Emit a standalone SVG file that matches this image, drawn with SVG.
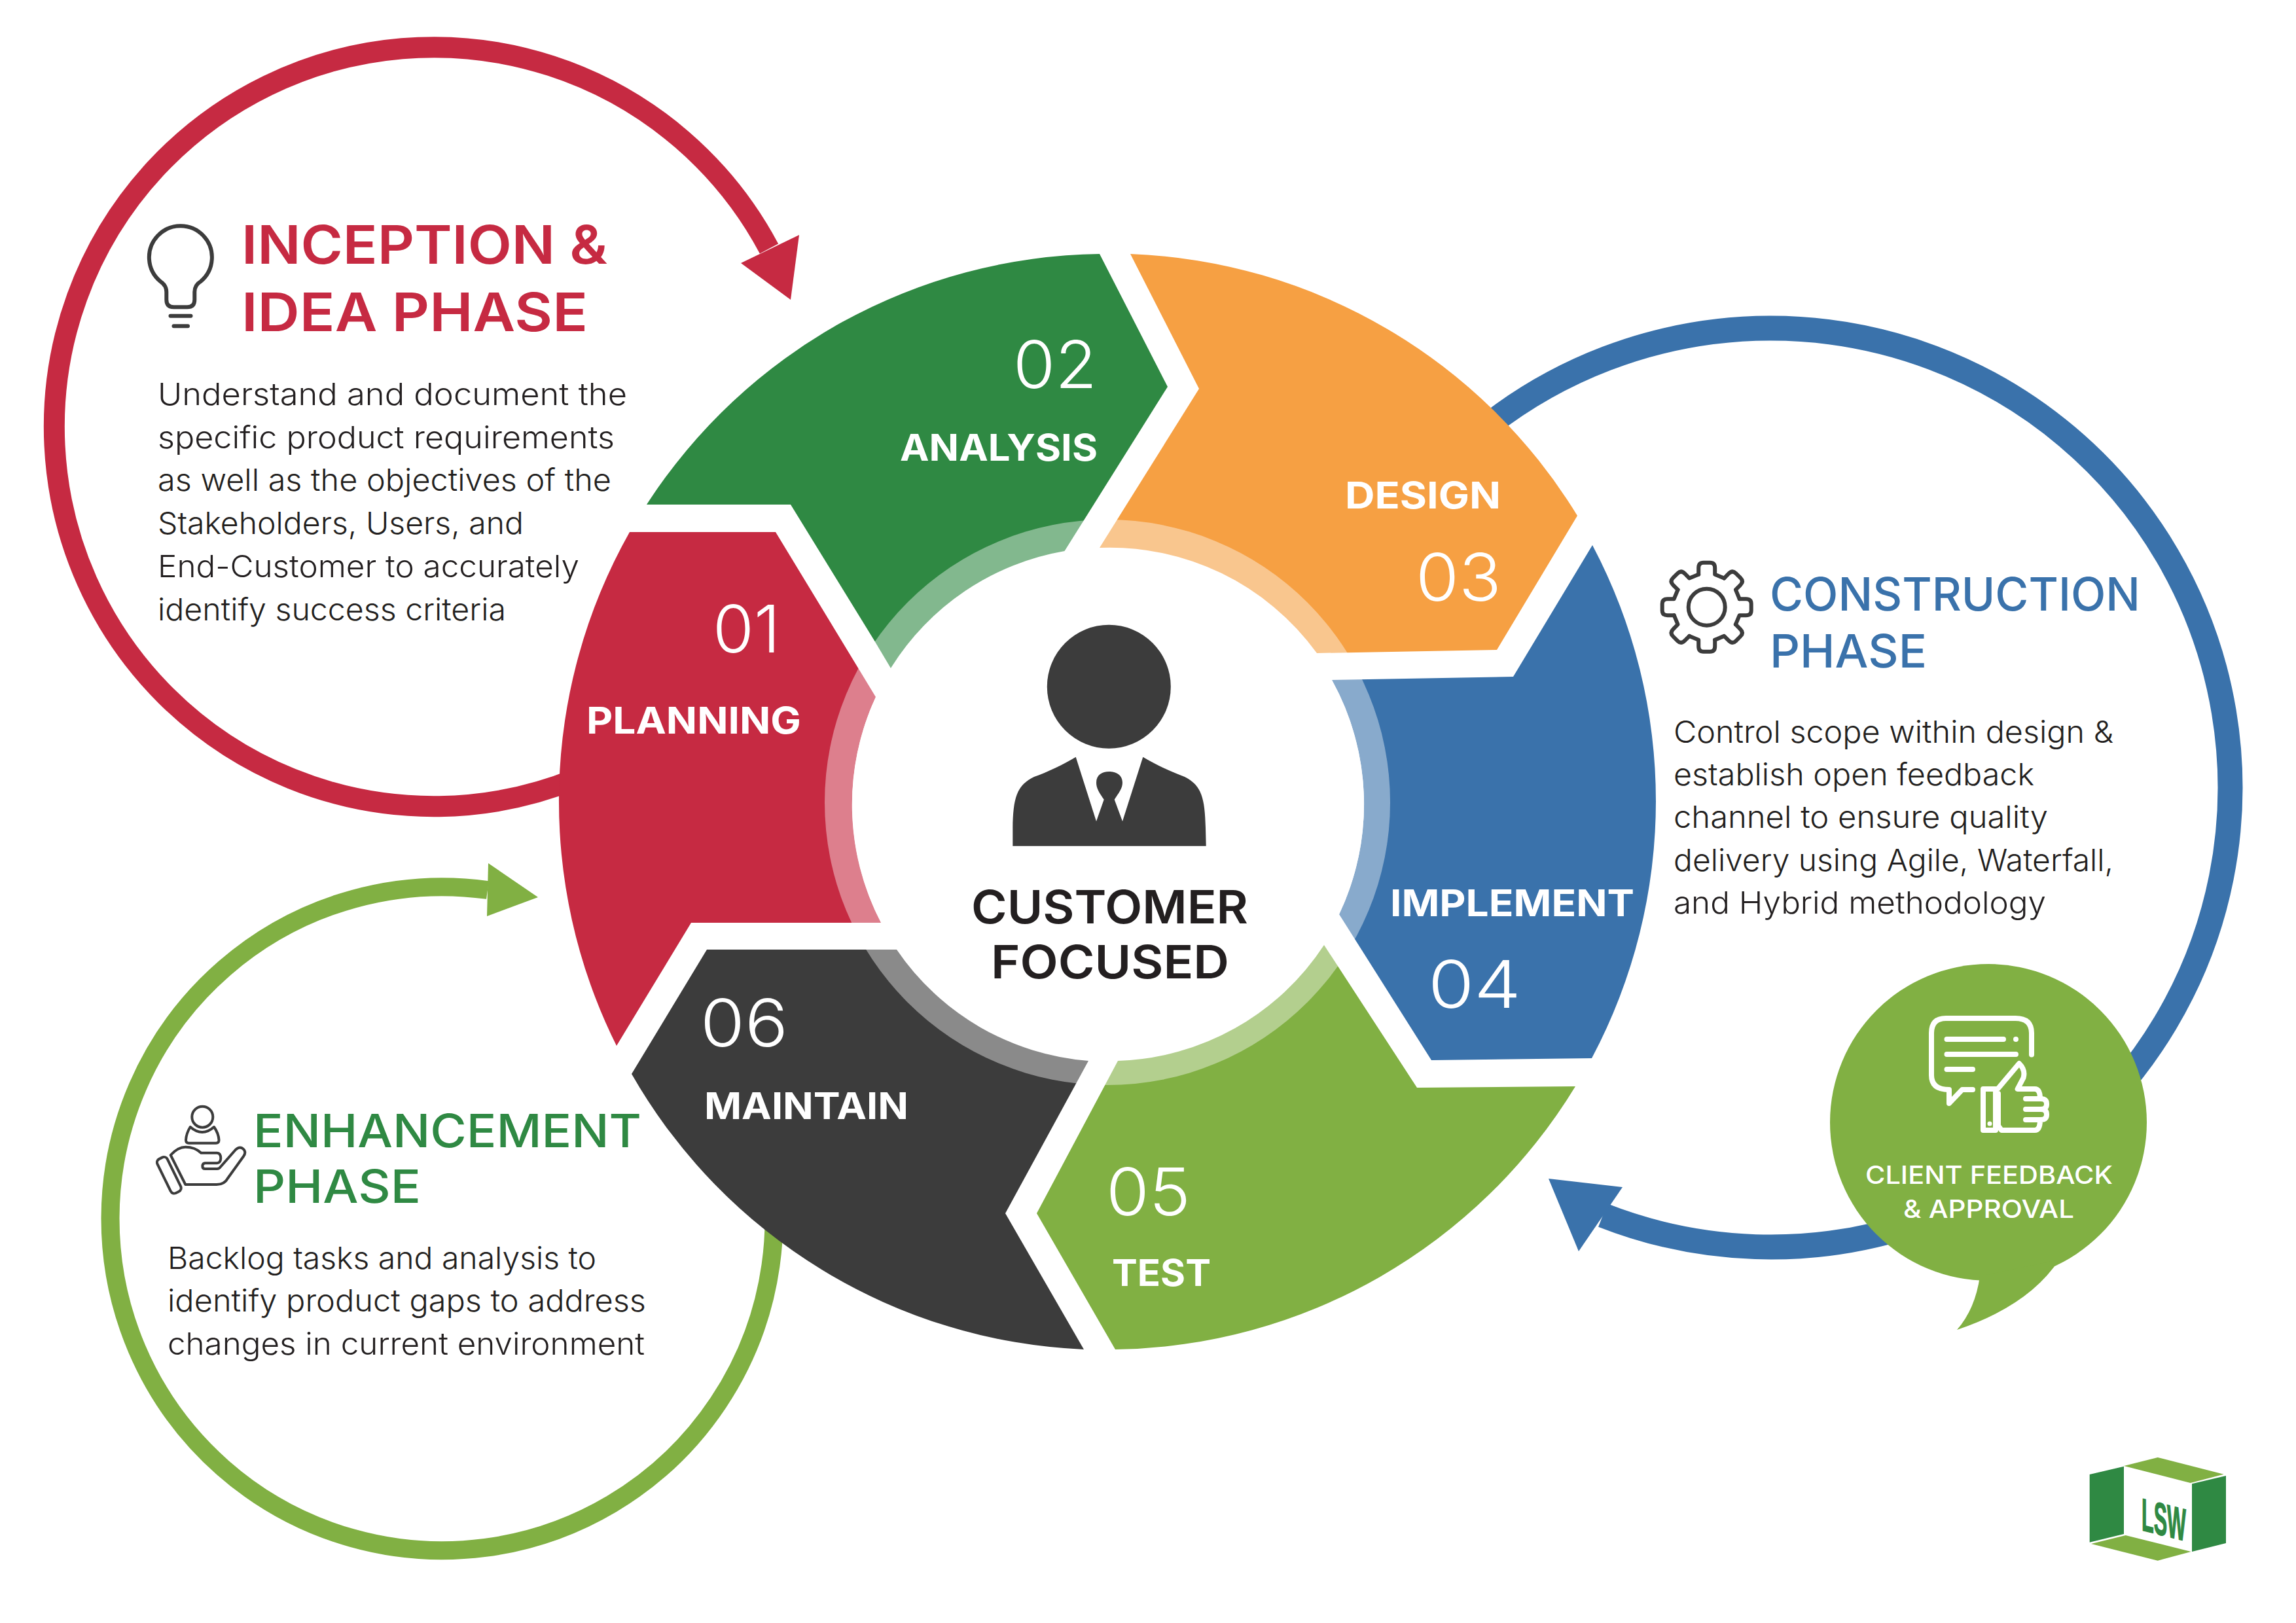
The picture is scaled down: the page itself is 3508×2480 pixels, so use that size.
<svg xmlns="http://www.w3.org/2000/svg" xmlns:xlink="http://www.w3.org/1999/xlink" width="3508" height="2480" viewBox="0 0 3508 2480">
<style>
text{font-family:"Inter","Open Sans","Liberation Sans",sans-serif}
.body{font-size:47px;font-weight:300;fill:#231f20}
.h{font-size:81px;font-weight:600}
.h2{font-size:70px;font-weight:500}
.num{font-size:100px;font-weight:300;fill:#fff}
.lab{font-size:56px;font-weight:700;fill:#fff}
.hub{font-size:70px;font-weight:600;fill:#231f20}
.bub{font-size:38px;font-weight:500;fill:#fff}
.ico{fill:none;stroke:#3c3c3c;stroke-width:6;stroke-linecap:round;stroke-linejoin:round}
.ico2{fill:none;stroke:#3c3c3c;stroke-width:4;stroke-linecap:round;stroke-linejoin:round}
.wic{fill:none;stroke:#fff;stroke-width:8;stroke-linecap:round;stroke-linejoin:round}
.arc{fill:none}
</style>
<defs>
<path id="tooth" d="M-12.5,-50V-60Q-12.5,-68 -5,-68H5Q12.5,-68 12.5,-60V-50L26.5,-44.2"/>
</defs>
<rect width="3508" height="2480" fill="#fff"/>
<g id="connectors">
<path class="arc" stroke="#c62a42" stroke-width="32" d="M880,1190A580,580 0 1 1 1175,380"/>
<polygon fill="#c62a42" points="1208,458 1132,402 1221,359"/>
<path class="arc" stroke="#81b043" stroke-width="28" d="M1165,1730A507,507 0 1 1 745,1360"/>
<polygon fill="#81b043" points="822,1371 746,1319 744,1400"/>
<path class="arc" stroke="#3a72ab" stroke-width="38" d="M2250,669.3A702,702 0 1 1 2449,1857"/>
<polygon fill="#3a72ab" points="2366,1801 2479,1814 2412,1912"/>
</g>
<g id="seg-01-planning">
<path fill="#c62a42" d="M962,813H1185L1338,1065A391,391 0 0 0 1346,1410H1056L942,1598A837,837 0 0 1 962,813Z"/>
<text class="num" x="1089" y="997" textLength="103" lengthAdjust="spacingAndGlyphs">01</text>
<text class="lab" x="896" y="1121" textLength="328" lengthAdjust="spacingAndGlyphs">PLANNING</text>
</g>
<g id="seg-02-analysis">
<path fill="#2f8943" d="M988,771A837,837 0 0 1 1680,388L1784,591L1626.5,842A391,391 0 0 0 1361,1021L1336,979L1208,771Z"/>
<text class="num" x="1548" y="593" textLength="128" lengthAdjust="spacingAndGlyphs">02</text>
<text class="lab" x="1375" y="704" textLength="302" lengthAdjust="spacingAndGlyphs">ANALYSIS</text>
</g>
<g id="seg-03-design">
<path fill="#f6a043" d="M1727,388A837,837 0 0 1 2410,788L2287,993L2012,998A391,391 0 0 0 1680,837L1832,594Z"/>
<text class="lab" x="2055" y="777" textLength="238" lengthAdjust="spacingAndGlyphs">DESIGN</text>
<text class="num" x="2163" y="918" textLength="131" lengthAdjust="spacingAndGlyphs">03</text>
</g>
<g id="seg-04-implement">
<path fill="#3a72ab" d="M2035,1039L2312,1034L2433,833A837,837 0 0 1 2432,1617L2187,1620L2046,1397A391,391 0 0 0 2035,1039Z"/>
<text class="lab" x="2124" y="1400" textLength="373" lengthAdjust="spacingAndGlyphs">IMPLEMENT</text>
<text class="num" x="2182" y="1540" textLength="142" lengthAdjust="spacingAndGlyphs">04</text>
</g>
<g id="seg-05-test">
<path fill="#81b043" d="M2023,1444L2165,1662L2407,1660A837,837 0 0 1 1704,2062L1584,1854L1708,1621A391,391 0 0 0 2023,1444Z"/>
<text class="num" x="1690" y="1857" textLength="129" lengthAdjust="spacingAndGlyphs">05</text>
<text class="lab" x="1699" y="1965" textLength="151" lengthAdjust="spacingAndGlyphs">TEST</text>
</g>
<g id="seg-06-maintain">
<path fill="#3c3c3c" d="M1080,1451H1370A391,391 0 0 0 1663,1621L1536,1854L1656,2062A837,837 0 0 1 965,1641Z"/>
<text class="num" x="1070" y="1599" textLength="134" lengthAdjust="spacingAndGlyphs">06</text>
<text class="lab" x="1076" y="1710" textLength="312" lengthAdjust="spacingAndGlyphs">MAINTAIN</text>
</g>
<g id="hub">
<circle cx="1692" cy="1226" r="432" fill="#fff" fill-opacity=".4"/>
<circle cx="1693" cy="1229" r="391" fill="#fff"/>
<circle cx="1694.3" cy="1049.3" r="94.5" fill="#3c3c3c"/>
<path fill="#3c3c3c" d="M1547.3,1292.7V1265C1548,1220 1553,1200 1580,1187C1600,1180 1625,1168 1643.7,1156.7L1675,1255L1686.7,1221.7C1680,1212 1675,1205 1675,1196C1675,1184 1684,1179 1694.3,1179C1705,1179 1715,1184 1715,1196C1715,1205 1709,1212 1702.7,1221.7L1715,1255L1746.3,1156.7C1765,1168 1790,1180 1810,1187C1836,1200 1841,1220 1842,1265L1842.7,1292.7Z"/>
<text class="hub" x="1484" y="1411" textLength="423" lengthAdjust="spacingAndGlyphs">CUSTOMER</text>
<text class="hub" x="1514" y="1495" textLength="364" lengthAdjust="spacingAndGlyphs">FOCUSED</text>
</g>
<g id="inception-phase">
<path class="ico" d="M245,430A48,48 0 1 1 306.7,430C300,434 297.3,440 297.3,446V458Q297.3,469.3 286,469.3H265.5Q254.3,469.3 254.3,458V446C254.3,440 251,434 245,430Z"/>
<path class="ico" stroke-width="7.5" d="M260.5,482.7H291.5M265.5,498.3H287"/>
<text class="h" fill="#c62a42" x="369" y="403" textLength="559" lengthAdjust="spacingAndGlyphs">INCEPTION &amp;</text>
<text class="h" fill="#c62a42" x="369" y="506" textLength="529" lengthAdjust="spacingAndGlyphs">IDEA PHASE</text>
<text class="body" x="241" y="619" textLength="717" lengthAdjust="spacingAndGlyphs">Understand and document the</text>
<text class="body" x="241" y="685" textLength="698" lengthAdjust="spacingAndGlyphs">specific product requirements</text>
<text class="body" x="241" y="750" textLength="693" lengthAdjust="spacingAndGlyphs">as well as the objectives of the</text>
<text class="body" x="241" y="816" textLength="559" lengthAdjust="spacingAndGlyphs">Stakeholders, Users, and</text>
<text class="body" x="241" y="882" textLength="644" lengthAdjust="spacingAndGlyphs">End-Customer to accurately</text>
<text class="body" x="241" y="948" textLength="532" lengthAdjust="spacingAndGlyphs">identify success criteria</text>
</g>
<g id="construction-phase">
<g class="ico" transform="translate(2607.7,927.7)">
<use xlink:href="#tooth" href="#tooth"/>
<use xlink:href="#tooth" href="#tooth" transform="rotate(45)"/>
<use xlink:href="#tooth" href="#tooth" transform="rotate(90)"/>
<use xlink:href="#tooth" href="#tooth" transform="rotate(135)"/>
<use xlink:href="#tooth" href="#tooth" transform="rotate(180)"/>
<use xlink:href="#tooth" href="#tooth" transform="rotate(225)"/>
<use xlink:href="#tooth" href="#tooth" transform="rotate(270)"/>
<use xlink:href="#tooth" href="#tooth" transform="rotate(315)"/>
<circle r="28"/>
</g>
<text class="h2" fill="#3a72ab" x="2704" y="933" textLength="566" lengthAdjust="spacingAndGlyphs">CONSTRUCTION</text>
<text class="h2" fill="#3a72ab" x="2704" y="1020" textLength="240" lengthAdjust="spacingAndGlyphs">PHASE</text>
<text class="body" x="2557" y="1135" textLength="672" lengthAdjust="spacingAndGlyphs">Control scope within design &amp;</text>
<text class="body" x="2557" y="1200" textLength="551" lengthAdjust="spacingAndGlyphs">establish open feedback</text>
<text class="body" x="2557" y="1265" textLength="572" lengthAdjust="spacingAndGlyphs">channel to ensure quality</text>
<text class="body" x="2557" y="1331" textLength="672" lengthAdjust="spacingAndGlyphs">delivery using Agile, Waterfall,</text>
<text class="body" x="2557" y="1396" textLength="569" lengthAdjust="spacingAndGlyphs">and Hybrid methodology</text>
</g>
<g id="enhancement-phase">
<circle class="ico2" cx="309.3" cy="1706.7" r="16"/>
<path class="ico2" d="M290.7,1722Q309,1738 327,1722Q334,1732 334.5,1742Q334.5,1746.7 330,1746.7H288.5Q284,1746.7 284,1742Q284.5,1732 290.7,1722Z"/>
<rect class="ico2" x="-8.5" y="-29" width="17" height="58" rx="6" transform="translate(258.3,1795.8) rotate(-26)"/>
<path class="ico2" d="M260.7,1765Q272,1752.7 283.3,1752.7Q298,1752.7 307.3,1761.7H331.7Q337.3,1762 337.3,1770Q337,1777 331,1777.3H313.3Q309.3,1778 309.3,1781.7Q309.3,1786 313.3,1786H331.7Q335,1786 336.7,1783.3L360,1756.7Q367,1750 373,1757Q376,1762 372,1767L348.3,1800Q343,1810 331,1810H283.3Z"/>
<text class="h2" fill="#2f8943" x="387" y="1753" textLength="593" lengthAdjust="spacingAndGlyphs">ENHANCEMENT</text>
<text class="h2" fill="#2f8943" x="387" y="1838" textLength="256" lengthAdjust="spacingAndGlyphs">PHASE</text>
<text class="body" x="256" y="1939" textLength="655" lengthAdjust="spacingAndGlyphs">Backlog tasks and analysis to</text>
<text class="body" x="256" y="2004" textLength="731" lengthAdjust="spacingAndGlyphs">identify product gaps to address</text>
<text class="body" x="256" y="2070" textLength="729" lengthAdjust="spacingAndGlyphs">changes in current environment</text>
</g>
<g id="client-feedback">
<circle cx="3038" cy="1715" r="242" fill="#81b043"/>
<path fill="#81b043" d="M3025,1950Q3018,2000 2990,2032Q3100,1995 3146,1925Z"/>
<path class="wic" d="M3104,1611.5V1578.6Q3104,1556 3079.4,1556H2973Q2951,1556 2951,1578.6V1643Q2951,1665 2978,1665V1686L2998,1665H3014"/>
<path class="wic" d="M2974.5,1588H3061M2974.5,1611H3080M2974.5,1634H3014"/>
<circle cx="3080" cy="1588" r="4" fill="#fff"/>
<rect class="wic" x="3030" y="1664" width="19" height="63"/>
<circle cx="3040" cy="1717" r="3.5" fill="#fff"/>
<path class="wic" d="M3053,1663L3085,1625Q3095,1635 3091.5,1647L3082.6,1664H3109Q3117,1664 3117,1679M3053,1671V1720L3058,1727H3109Q3117,1727 3117,1711M3095,1679H3118Q3127,1679 3127,1687Q3127,1695 3118,1695H3095M3118,1695Q3127,1695 3127,1703Q3127,1711 3118,1711H3095"/>
<text class="bub" x="2850" y="1809" textLength="378" lengthAdjust="spacingAndGlyphs">CLIENT FEEDBACK</text>
<text class="bub" x="2908" y="1861" textLength="261" lengthAdjust="spacingAndGlyphs">&amp; APPROVAL</text>
</g>
<g id="logo">
<polygon fill="#2f8943" points="3192.7,2253 3245,2240.7 3245,2344 3192.7,2356.7"/>
<polygon fill="#81b043" points="3245,2240 3296.7,2227 3397.7,2252.7 3346.7,2266"/>
<polygon fill="#2f8943" points="3349,2267.3 3401,2255 3401,2358 3349,2371"/>
<polygon fill="#81b043" points="3195,2359 3247.7,2346 3347.7,2371 3296.7,2384.7"/>
<text transform="translate(3272,2338) skewY(14)" font-size="70" font-weight="700" fill="#2f8943" stroke="#2f8943" stroke-width="1.5" style="font-family:'Liberation Sans',sans-serif" textLength="68" lengthAdjust="spacingAndGlyphs">LSW</text>
</g>
</svg>
